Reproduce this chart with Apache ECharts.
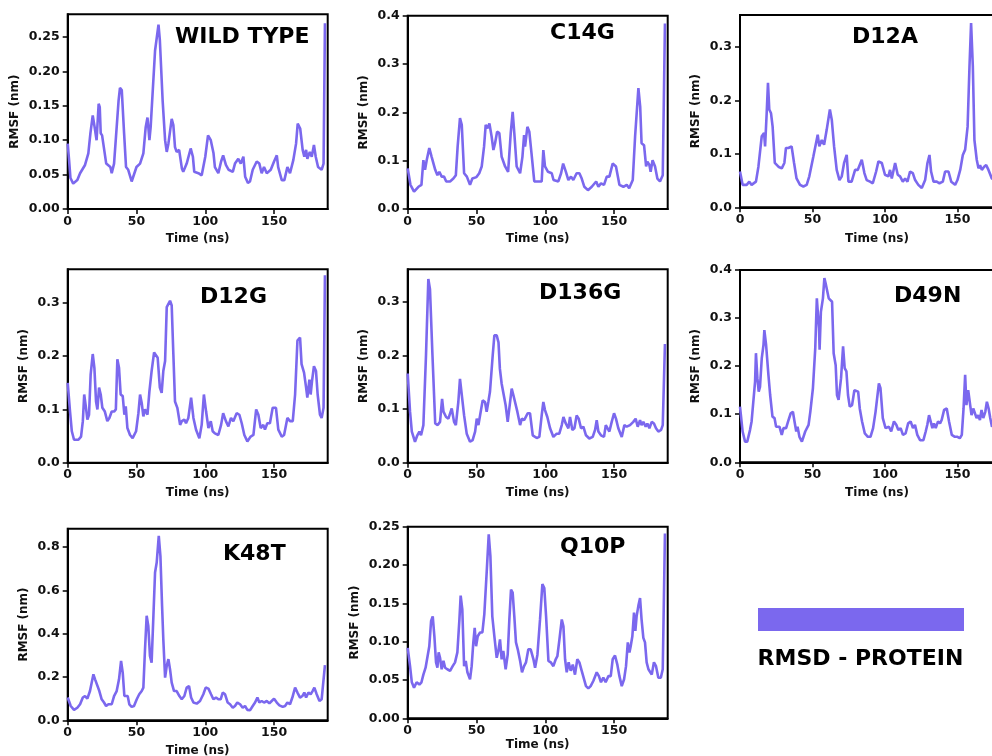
<!DOCTYPE html>
<html>
<head>
<meta charset="utf-8">
<script src="https://cdn.jsdelivr.net/npm/echarts@6/dist/echarts.min.js"></script>
<style>
  html, body { margin: 0; padding: 0; background: #fff; }
  #chart { width: 992px; height: 756px; }
</style>
</head>
<body>
<div id="chart"></div>
<script>
// RMSF traces, [time (ns), rmsf (nm)]
const wildType = [[0,0.095],[1,0.071],[2,0.045],[4,0.037],[5,0.035],[7,0.042],[9,0.052],[12.6,0.064],[15,0.081],[16.5,0.11],[18.2,0.136],[19.5,0.12],[21,0.1],[22.5,0.153],[23.3,0.148],[24,0.11],[25,0.107],[28,0.066],[31,0.061],[32,0.052],[33.7,0.066],[35,0.066],[37,0.158],[38,0.176],[39.3,0.173],[41,0.11],[42.4,0.061],[44,0.057],[46.5,0.04],[47.7,0.042],[50,0.061],[52.6,0.066],[55,0.081],[56.7,0.119],[58,0.133],[59.4,0.1],[60.3,0.119],[63.5,0.23],[66,0.268],[67,0.245],[69,0.158],[70.8,0.1],[72,0.083],[73.2,0.095],[75.6,0.131],[76.8,0.122],[78,0.09],[79.2,0.083],[81,0.086],[83,0.059],[84,0.054],[86.5,0.066],[89.4,0.088],[91,0.076],[92,0.054],[95,0.052],[97.4,0.049],[100,0.076],[102,0.107],[104,0.1],[106,0.081],[107,0.061],[109.5,0.052],[111.5,0.069],[113,0.078],[115,0.064],[117,0.057],[120,0.054],[121.6,0.066],[124,0.073],[125.8,0.066],[127.7,0.076],[129,0.047],[131,0.038],[132.5,0.04],[134.5,0.057],[137.4,0.069],[139.3,0.066],[141,0.052],[142.7,0.061],[144.7,0.052],[147.6,0.057],[150,0.069],[152,0.078],[153,0.061],[155.6,0.042],[157.5,0.042],[159.7,0.061],[161.6,0.052],[164,0.071],[166,0.095],[167.2,0.124],[169,0.117],[170.8,0.086],[172,0.076],[173.3,0.086],[174.2,0.073],[176,0.083],[177.4,0.076],[179,0.093],[180.3,0.076],[182,0.061],[184.6,0.057],[186,0.066],[187,0.27]];

const c14g = [[0,0.084],[2,0.05],[4.6,0.036],[7.8,0.046],[10,0.05],[11.4,0.101],[12.6,0.081],[13.8,0.101],[15.7,0.126],[17.4,0.108],[20,0.081],[21.6,0.07],[23,0.077],[24.7,0.067],[26.4,0.067],[28,0.057],[30.8,0.057],[33.2,0.063],[35,0.07],[36.3,0.129],[38,0.188],[39.3,0.174],[41,0.074],[43,0.067],[45.3,0.05],[47,0.063],[50,0.066],[52,0.074],[53.8,0.088],[55.5,0.129],[56.7,0.174],[58,0.167],[59.4,0.177],[61,0.15],[62.3,0.122],[63.5,0.136],[65,0.16],[66.6,0.157],[68.3,0.108],[70.8,0.088],[73,0.077],[74.9,0.157],[76.3,0.201],[77.5,0.157],[79.2,0.088],[81.7,0.074],[83.4,0.108],[84.6,0.153],[85.3,0.129],[87,0.17],[88.4,0.16],[90,0.115],[92,0.057],[95,0.057],[97.4,0.057],[98.6,0.122],[99.8,0.088],[102,0.077],[104.7,0.074],[106,0.06],[109.5,0.057],[111.5,0.074],[113,0.094],[115,0.077],[116.8,0.06],[118.7,0.067],[120.4,0.06],[122.8,0.074],[124.8,0.074],[126.5,0.063],[128.4,0.046],[131,0.039],[133.8,0.046],[137,0.057],[138.6,0.046],[140.5,0.053],[142.7,0.05],[144.7,0.067],[146.6,0.067],[149,0.094],[151.4,0.088],[153.9,0.05],[156.8,0.046],[159.2,0.05],[161,0.043],[163.6,0.06],[165.3,0.15],[167.7,0.25],[169,0.212],[170,0.136],[171.8,0.132],[173.3,0.088],[174.2,0.098],[175.7,0.091],[176.6,0.077],[178,0.101],[179.8,0.088],[181.5,0.063],[183.4,0.057],[185.4,0.07],[187,0.384]];

const d12a = [[0,0.067],[1.8,0.042],[4.6,0.042],[6.4,0.048],[8,0.042],[11,0.048],[12.7,0.076],[15,0.133],[16.6,0.139],[17.3,0.114],[18.4,0.176],[19.3,0.233],[20.2,0.183],[21.4,0.176],[22.5,0.151],[24,0.083],[26.5,0.076],[28.8,0.073],[30.6,0.083],[31.7,0.111],[33.4,0.111],[34.5,0.108],[35.6,0.114],[37.3,0.083],[39,0.054],[41.4,0.042],[43.7,0.039],[46,0.042],[47.8,0.058],[50.6,0.095],[53.6,0.136],[54.7,0.114],[56.4,0.126],[58,0.117],[59.8,0.145],[62,0.183],[63.3,0.164],[64.9,0.114],[66.7,0.07],[68.6,0.051],[70.2,0.058],[71.8,0.083],[73.6,0.098],[74.8,0.048],[77,0.048],[79.4,0.07],[81.2,0.07],[84,0.089],[85.8,0.064],[87.4,0.051],[89.7,0.048],[91.6,0.045],[93.9,0.067],[95.5,0.086],[97.8,0.083],[100,0.061],[102.4,0.058],[103.5,0.07],[104.7,0.054],[107,0.083],[108.8,0.061],[110.4,0.058],[112.3,0.048],[113.9,0.054],[115.5,0.048],[117.3,0.067],[119.2,0.064],[120.8,0.051],[123,0.042],[125.4,0.036],[127.7,0.051],[129.3,0.083],[130.7,0.098],[131.8,0.067],[133.5,0.048],[135.7,0.048],[137.6,0.045],[139.9,0.048],[141.5,0.067],[143.8,0.067],[145.7,0.048],[148.4,0.042],[150,0.051],[151.9,0.07],[153.7,0.098],[155.3,0.108],[157,0.151],[158.3,0.264],[159.4,0.345],[160.6,0.264],[161.7,0.126],[163.3,0.089],[164.5,0.073],[165.6,0.079],[166.8,0.07],[168.4,0.076],[169.8,0.079],[171.4,0.07],[173.7,0.054],[176,0.052],[178,0.06],[181,0.055],[184,0.06],[187,0.2]];

const d12g = [[0,0.15],[1.7,0.096],[3,0.059],[4.6,0.043],[7.8,0.043],[9.7,0.049],[11,0.078],[12,0.128],[13.3,0.103],[14.3,0.081],[15.5,0.09],[16.7,0.166],[18.2,0.204],[19.4,0.178],[20.6,0.115],[21.6,0.1],[22.8,0.141],[24,0.128],[25.2,0.103],[27,0.096],[28.8,0.078],[30.3,0.084],[32,0.096],[33.7,0.096],[35,0.1],[36.1,0.194],[37.3,0.178],[38.5,0.128],[40,0.125],[41.2,0.09],[42.2,0.106],[43.4,0.065],[45.3,0.052],[47.2,0.046],[49.7,0.059],[51.4,0.093],[52.6,0.128],[53.8,0.112],[55,0.087],[56.2,0.1],[58,0.09],[59.4,0.134],[61,0.172],[62.8,0.207],[64.2,0.204],[65.4,0.197],[67,0.141],[68.3,0.131],[69.5,0.172],[70.8,0.191],[72,0.292],[73.2,0.292],[74.4,0.304],[75.6,0.295],[76.8,0.204],[78,0.115],[79.7,0.103],[81.7,0.071],[83,0.078],[84.8,0.081],[86,0.074],[87.7,0.084],[89.7,0.122],[91.4,0.084],[93.3,0.062],[95.7,0.046],[97.4,0.071],[99,0.128],[100.6,0.096],[102.3,0.065],[104,0.078],[105.4,0.059],[107,0.055],[109.5,0.052],[111.5,0.071],[113,0.093],[115,0.078],[116.8,0.068],[118.7,0.084],[120.4,0.078],[122.8,0.093],[124.8,0.09],[126.5,0.074],[128.4,0.052],[130.6,0.04],[133,0.049],[135,0.052],[137,0.1],[138.6,0.09],[140.3,0.065],[142.2,0.071],[143.4,0.062],[145.1,0.074],[147,0.074],[149,0.103],[151.4,0.103],[153.1,0.062],[155.6,0.049],[157.3,0.052],[159.7,0.084],[161.6,0.078],[163.6,0.078],[165.3,0.128],[167,0.229],[168.9,0.235],[170,0.185],[171.8,0.169],[173.3,0.141],[174.2,0.122],[175.7,0.156],[176.6,0.128],[177.6,0.153],[179,0.181],[180.5,0.172],[181.7,0.128],[183.4,0.09],[184.6,0.084],[186,0.103],[187,0.352]];

const d136g = [[0,0.166],[1.7,0.095],[3,0.058],[5.3,0.039],[7,0.051],[8.5,0.058],[9.7,0.051],[11.4,0.07],[13.3,0.2],[15,0.342],[16.2,0.323],[18,0.2],[20,0.073],[21.8,0.07],[23.5,0.076],[25,0.119],[26,0.095],[27.9,0.085],[29.6,0.082],[32,0.101],[33.7,0.076],[35,0.07],[36.8,0.113],[38,0.156],[39.3,0.153],[41,0.088],[42.9,0.054],[45.3,0.039],[47.2,0.042],[49,0.058],[50.2,0.082],[51.4,0.07],[52.6,0.088],[54.5,0.116],[56.2,0.113],[57.4,0.095],[58.6,0.113],[59.8,0.132],[61.8,0.2],[63,0.237],[64.7,0.237],[66,0.224],[67,0.175],[68.3,0.147],[69.5,0.144],[71.2,0.107],[72.7,0.076],[73.9,0.073],[75.6,0.138],[76.8,0.126],[78,0.126],[79.7,0.095],[81.7,0.07],[83,0.082],[84.6,0.079],[85.8,0.085],[87.2,0.092],[88.9,0.092],[90.9,0.051],[93.8,0.046],[95.7,0.048],[97.4,0.088],[98.6,0.113],[99.8,0.098],[101.5,0.085],[103.5,0.064],[105.9,0.048],[108.3,0.054],[110.2,0.054],[112,0.07],[113.2,0.085],[114.9,0.073],[116.8,0.064],[118,0.085],[119.7,0.061],[121.2,0.064],[122.8,0.088],[124.3,0.082],[126,0.064],[127.7,0.067],[129.6,0.051],[132,0.045],[134.5,0.048],[136.2,0.061],[137.4,0.079],[138.6,0.058],[140.5,0.051],[142.7,0.048],[144,0.07],[145.1,0.067],[146.6,0.058],[148.3,0.076],[150,0.092],[151.4,0.082],[153.1,0.064],[155.6,0.048],[157.5,0.07],[159.2,0.067],[161.6,0.07],[164,0.076],[165.7,0.082],[167.2,0.067],[168.9,0.079],[170,0.07],[171.3,0.076],[173,0.067],[174.2,0.073],[175.7,0.064],[177.4,0.076],[179,0.073],[180.5,0.064],[182.2,0.058],[184.2,0.061],[185.4,0.07],[187,0.221]];

const d49n = [[0,0.116],[1.8,0.064],[3.5,0.043],[5,0.043],[6.9,0.067],[8,0.085],[9.2,0.085],[10.4,0.168],[11,0.227],[12,0.175],[12.9,0.147],[13.8,0.157],[15,0.216],[16.2,0.244],[16.8,0.275],[18,0.244],[19.6,0.182],[20.8,0.14],[22.4,0.095],[23.8,0.092],[24.9,0.074],[26,0.071],[27.2,0.074],[28.8,0.057],[30,0.071],[31.8,0.071],[33.5,0.088],[35,0.102],[36.5,0.105],[37.6,0.085],[38.8,0.064],[39.7,0.074],[41,0.053],[42.7,0.043],[45,0.064],[47.3,0.078],[48.5,0.105],[50.3,0.154],[51.9,0.237],[53,0.341],[53.8,0.306],[54.5,0.279],[54.9,0.234],[55.8,0.313],[57.2,0.341],[58.2,0.383],[59.3,0.369],[60,0.372],[61.2,0.341],[62.3,0.345],[63.5,0.334],[64.6,0.227],[66,0.202],[66.9,0.14],[68,0.13],[69.7,0.175],[71.1,0.241],[72.2,0.196],[73.4,0.189],[74.5,0.14],[75.7,0.116],[77.3,0.119],[78.9,0.15],[80,0.154],[81.5,0.147],[82.6,0.112],[84.2,0.085],[86.1,0.06],[88.2,0.053],[90,0.053],[91.8,0.071],[93.5,0.105],[95.8,0.164],[96.9,0.154],[98.5,0.092],[100.4,0.071],[102.7,0.074],[104.3,0.064],[106.2,0.085],[107.8,0.078],[109.2,0.067],[110.8,0.071],[112.4,0.057],[114.2,0.06],[116,0.081],[117.7,0.085],[119.3,0.071],[120.7,0.078],[122.3,0.057],[124.2,0.046],[126.5,0.046],[128.1,0.064],[129.2,0.078],[130.4,0.098],[131.5,0.085],[132.7,0.071],[133.8,0.081],[135,0.071],[136.6,0.085],[138,0.081],[139.1,0.088],[140.8,0.109],[142.6,0.112],[144.2,0.085],[146.1,0.057],[148.2,0.053],[150,0.053],[151.6,0.05],[153,0.057],[154.2,0.112],[155.3,0.182],[156.2,0.119],[157.4,0.15],[158.5,0.147],[159.7,0.098],[160.9,0.112],[162,0.109],[163.2,0.092],[164.3,0.098],[165.5,0.088],[166.6,0.109],[167.8,0.092],[169.2,0.105],[170.3,0.126],[171.5,0.112],[172.6,0.092],[173.8,0.074],[174.5,0.071],[176,0.085],[178,0.1],[180,0.09],[183,0.08],[186,0.09],[187,0.2]];

const k48t = [[0,0.105],[2.2,0.066],[4.6,0.048],[7,0.058],[9,0.074],[11,0.105],[12.6,0.112],[14.3,0.1],[16.2,0.135],[18.7,0.212],[19.9,0.189],[21,0.182],[23,0.135],[24.7,0.097],[26.4,0.082],[27.9,0.066],[29.6,0.074],[32,0.074],[33.7,0.112],[35.6,0.135],[37.3,0.189],[38.8,0.274],[40,0.22],[41.2,0.112],[42.4,0.105],[43.6,0.112],[44.8,0.074],[46.5,0.062],[48.2,0.066],[50.2,0.097],[52,0.12],[53.8,0.135],[55,0.151],[56.2,0.328],[57.4,0.482],[58.6,0.435],[59.8,0.297],[61,0.266],[62.3,0.482],[63.5,0.682],[64.7,0.728],[66.2,0.851],[67.4,0.758],[68.6,0.528],[69.5,0.374],[70.8,0.197],[72,0.251],[73.2,0.282],[74.4,0.235],[75.6,0.174],[77.3,0.135],[79.2,0.135],[81.2,0.112],[82.9,0.097],[84.8,0.112],[86.5,0.151],[88.2,0.158],[89.7,0.105],[91.4,0.082],[93.8,0.077],[96.2,0.089],[98.6,0.12],[100.3,0.151],[102.3,0.146],[104.2,0.12],[105.9,0.097],[107.8,0.105],[109.5,0.097],[111.2,0.097],[112.7,0.128],[114.4,0.12],[116.3,0.082],[118,0.074],[120,0.058],[121.6,0.066],[123.3,0.082],[125.3,0.074],[127.2,0.058],[128.9,0.066],[130.6,0.048],[132.5,0.046],[134.5,0.066],[136.2,0.082],[137.9,0.105],[139.3,0.082],[141,0.089],[142.7,0.082],[144.7,0.089],[146.6,0.078],[148.3,0.089],[150,0.1],[152,0.082],[153.9,0.069],[156.3,0.062],[158,0.066],[159.7,0.082],[161.6,0.074],[163.3,0.105],[165.3,0.151],[167,0.128],[168.9,0.105],[170.6,0.112],[172,0.128],[173.3,0.105],[175,0.128],[176.6,0.12],[178,0.135],[179.3,0.151],[181,0.12],[183,0.089],[184.6,0.097],[186,0.105],[187,0.254]];

const q10p = [[0,0.092],[1.7,0.068],[3,0.047],[4.6,0.04],[6.5,0.047],[8.5,0.044],[10,0.047],[11.4,0.057],[13,0.066],[14.3,0.068],[15.7,0.094],[17,0.127],[18.2,0.133],[19.4,0.107],[20.6,0.073],[21.6,0.066],[22.5,0.086],[23.5,0.079],[24.7,0.064],[26,0.075],[27.2,0.066],[28.8,0.064],[30.8,0.062],[32.7,0.068],[34.4,0.073],[36.1,0.086],[37.6,0.129],[38.5,0.16],[39.7,0.142],[41,0.068],[42.2,0.075],[43.4,0.06],[45.3,0.051],[46.5,0.068],[47.7,0.099],[48.7,0.118],[49.7,0.094],[50.9,0.107],[52.6,0.112],[54.3,0.112],[55.7,0.136],[57.4,0.19],[58.9,0.24],[60.1,0.212],[61.5,0.133],[63,0.107],[64.7,0.079],[65.9,0.088],[67.1,0.103],[68.3,0.077],[69.5,0.088],[71.2,0.064],[72.7,0.083],[73.9,0.129],[75.1,0.168],[76.3,0.164],[77.5,0.133],[78.7,0.099],[80,0.09],[81.7,0.075],[83.1,0.06],[84.6,0.068],[86,0.073],[87.7,0.09],[89.4,0.09],[91.4,0.077],[92.6,0.066],[94.3,0.083],[96.2,0.129],[97.9,0.175],[99.3,0.17],[100.6,0.133],[102.3,0.075],[104,0.073],[105.9,0.068],[107.6,0.077],[108.8,0.081],[110.3,0.103],[112,0.129],[113.2,0.12],[114.4,0.077],[115.6,0.06],[117,0.073],[118.5,0.062],[120,0.07],[121.6,0.057],[123.3,0.077],[124.8,0.073],[126.5,0.062],[127.7,0.06],[129.6,0.042],[131.3,0.039],[133,0.042],[135,0.049],[137.4,0.06],[139,0.055],[140.5,0.047],[142.2,0.053],[143.9,0.047],[145.9,0.055],[147.6,0.055],[149,0.077],[150.7,0.082],[152.4,0.07],[153.9,0.055],[155.6,0.042],[157.3,0.051],[158.7,0.068],[160,0.099],[161.2,0.086],[162.1,0.094],[163.3,0.107],[164.5,0.138],[165.5,0.114],[166.4,0.133],[167.7,0.147],[168.9,0.157],[170,0.129],[171.3,0.105],[172.5,0.099],[173.7,0.073],[175,0.064],[176.2,0.066],[177.4,0.057],[179,0.073],[180.5,0.068],[182.2,0.053],[184,0.053],[185.4,0.064],[187,0.241]];

const timeTicks = [0, 50, 100, 150];
const ticks025 = [0, 0.05, 0.10, 0.15, 0.20, 0.25];
const ticks03 = [0, 0.1, 0.2, 0.3];
const ticks04 = [0, 0.1, 0.2, 0.3, 0.4];
const ticks08 = [0, 0.2, 0.4, 0.6, 0.8];

const LINE = '#7B68EE';
const FONT = 'DejaVu Sans';

// panel layout (pixels) and y ranges
const panels = [
  { label: 'WILD TYPE', data: wildType, yMax: 0.283, ticks: ticks025, dec: 2, box: [67.7, 14.3, 260, 194.7], gap: 47, xGap: 24, title: [175, 37] },
  { label: 'C14G',      data: c14g,     yMax: 0.4,   ticks: ticks04,  dec: 1, box: [407.7, 15.7, 260, 193.3], gap: 38, xGap: 24, title: [550, 33] },
  { label: 'D12A',      data: d12a,     yMax: 0.36,  ticks: ticks03,  dec: 1, box: [740, 15, 274, 192.3], gap: 38, xGap: 25.5, title: [852, 37] },
  { label: 'D12G',      data: d12g,     yMax: 0.363, ticks: ticks03,  dec: 1, box: [67.7, 269.3, 260, 193.4], gap: 38, xGap: 24.5, title: [200, 297] },
  { label: 'D136G',     data: d136g,    yMax: 0.36,  ticks: ticks03,  dec: 1, box: [407.7, 269.3, 260, 193.4], gap: 38, xGap: 24.5, title: [539, 293] },
  { label: 'D49N',      data: d49n,     yMax: 0.4,   ticks: ticks04,  dec: 1, box: [740, 270, 274, 192.3], gap: 38, xGap: 25, title: [894, 296] },
  { label: 'K48T',      data: k48t,     yMax: 0.884, ticks: ticks08,  dec: 1, box: [67.7, 528.7, 260, 191.6], gap: 38, xGap: 25, title: [223, 554] },
  { label: 'Q10P',      data: q10p,     yMax: 0.25,  ticks: ticks025, dec: 2, box: [407.7, 526.7, 260, 191.6], gap: 47, xGap: 21, title: [560, 547] }
];

const chart = echarts.init(document.getElementById('chart'), null, { renderer: 'canvas' });

const tickStyle = { show: true, inside: false, length: 5, lineStyle: { color: '#000', width: 1.5 } };
const labelStyle = { color: '#111', fontFamily: FONT, fontWeight: 'bold', fontSize: 12.5 };
const nameStyle = { color: '#111', fontFamily: FONT, fontWeight: 'bold', fontSize: 12 };

const option = {
  backgroundColor: '#fff',
  animation: false,
  grid: panels.map(p => ({
    left: p.box[0], top: p.box[1], width: p.box[2], height: p.box[3],
    containLabel: false, outerBoundsMode: 'none',
    show: true, borderColor: '#000', borderWidth: 2, backgroundColor: 'transparent'
  })),
  xAxis: panels.map((p, i) => ({
    type: 'value', gridIndex: i, min: 0, max: 189,
    name: 'Time (ns)', nameLocation: 'middle', nameGap: p.xGap, nameTextStyle: nameStyle,
    splitLine: { show: false },
    axisLine: { show: true, onZero: false, lineStyle: { color: '#000', width: 2 } },
    axisTick: Object.assign({ customValues: timeTicks }, tickStyle),
    axisLabel: Object.assign({ customValues: timeTicks, margin: 6 }, labelStyle)
  })),
  yAxis: panels.map((p, i) => ({
    type: 'value', gridIndex: i, min: 0, max: p.yMax,
    name: 'RMSF (nm)', nameLocation: 'middle', nameGap: p.gap, nameTextStyle: nameStyle,
    splitLine: { show: false },
    axisLine: { show: true, onZero: false, lineStyle: { color: '#000', width: 2 } },
    axisTick: Object.assign({ customValues: p.ticks }, tickStyle),
    axisLabel: Object.assign({
      customValues: p.ticks, margin: 8,
      formatter: v => v.toFixed(p.dec)
    }, labelStyle)
  })),
  series: panels.map((p, i) => ({
    name: p.label, type: 'line', xAxisIndex: i, yAxisIndex: i,
    data: p.data, showSymbol: false, symbol: 'none', clip: true,
    lineStyle: { color: LINE, width: 2.6 }, itemStyle: { color: LINE }
  })),
  graphic: panels.map(p => ({
    type: 'text', x: p.title[0], y: p.title[1],
    style: {
      text: p.label, fill: '#000', fontFamily: FONT, fontWeight: 'bold', fontSize: 22,
      textAlign: 'left', textVerticalAlign: 'middle'
    }
  })).concat([
    { type: 'rect', shape: { x: 758, y: 608, width: 206, height: 23 }, style: { fill: LINE } },
    { type: 'text', x: 860.5, y: 659,
      style: { text: 'RMSD - PROTEIN', fill: '#000', fontFamily: FONT, fontWeight: 'bold', fontSize: 22,
        textAlign: 'center', textVerticalAlign: 'middle' } }
  ])
};

chart.setOption(option);
</script>
</body>
</html>
